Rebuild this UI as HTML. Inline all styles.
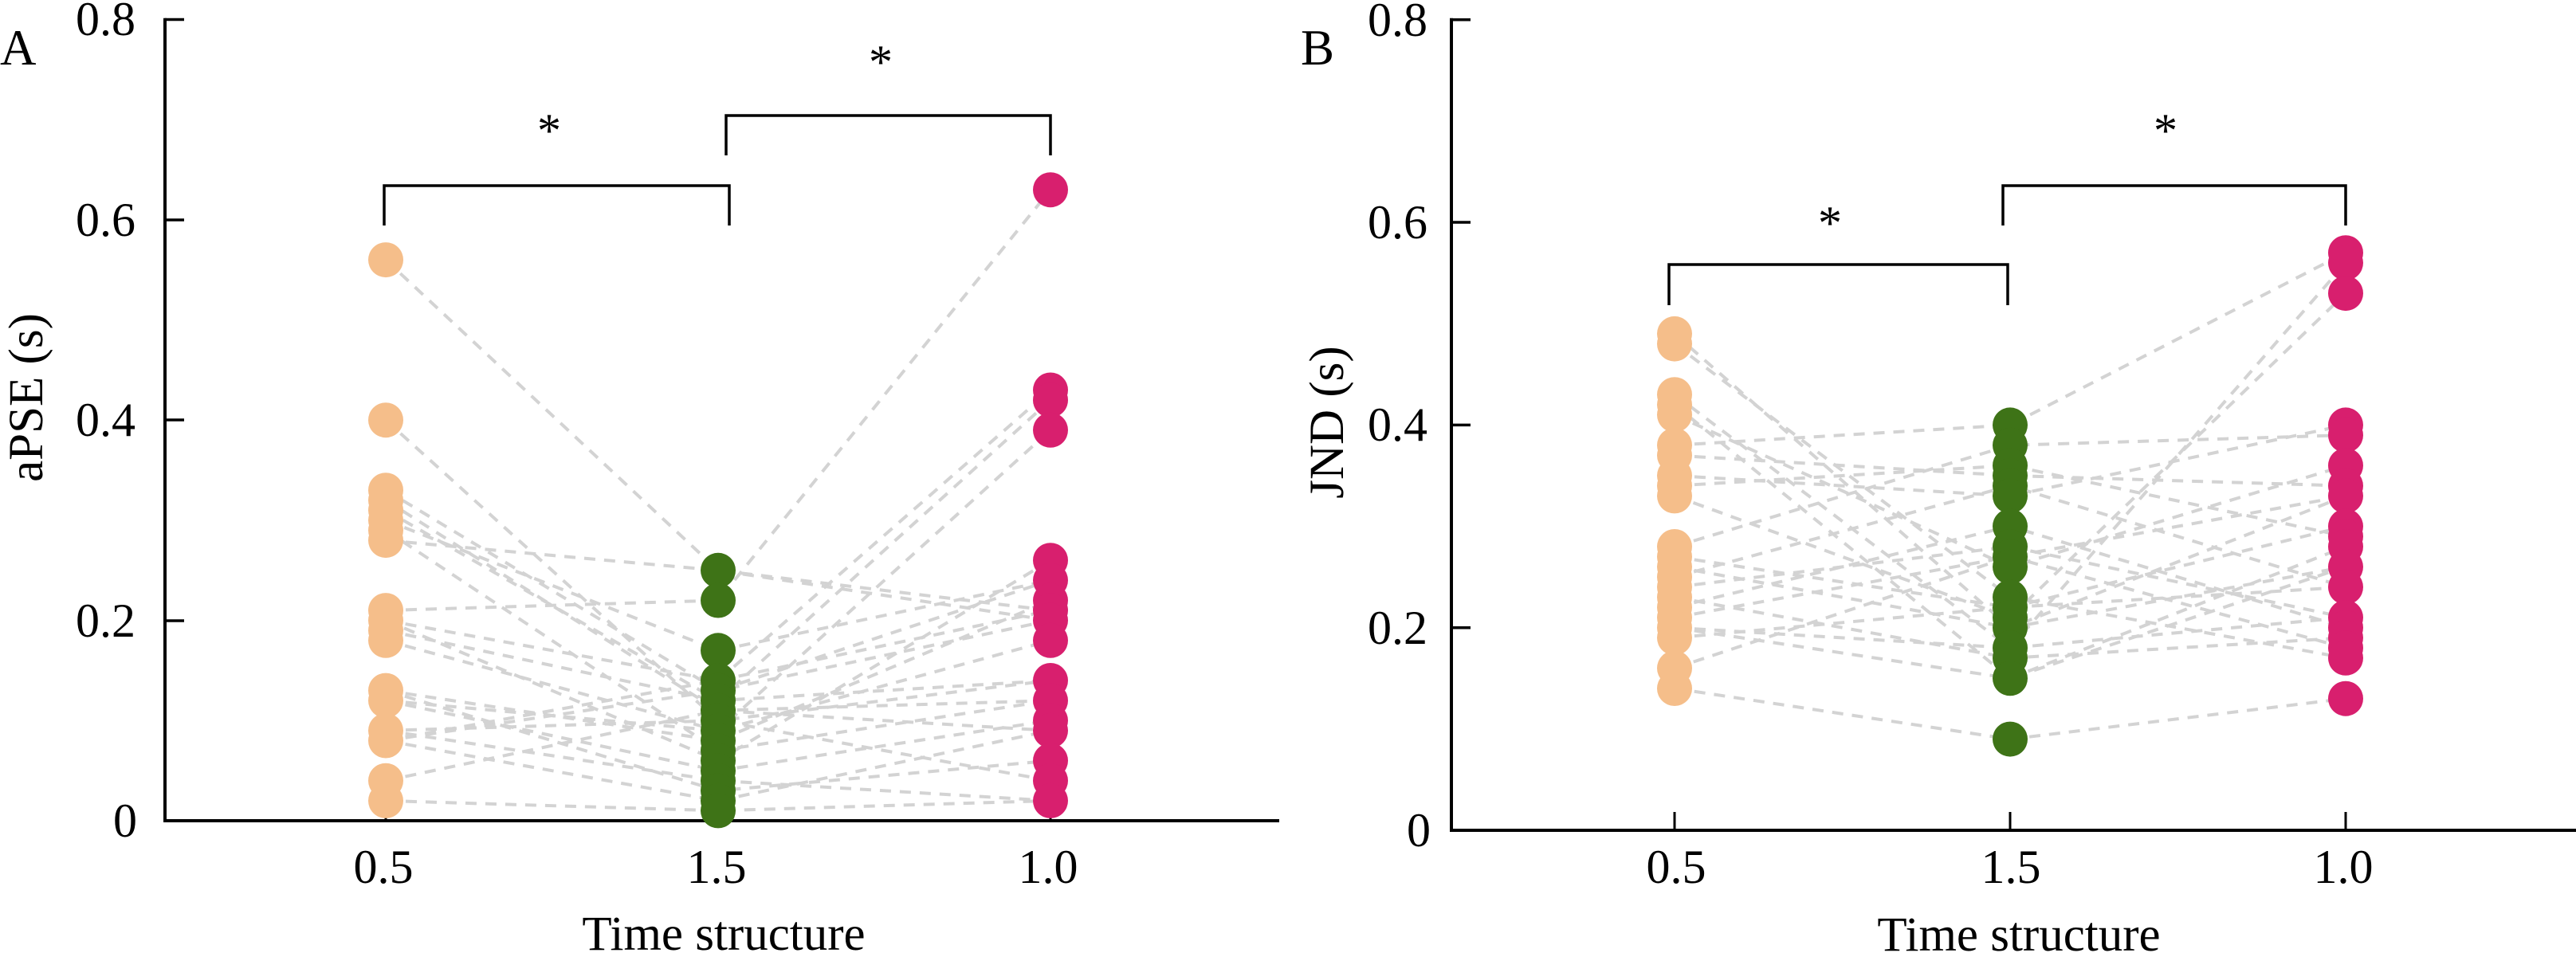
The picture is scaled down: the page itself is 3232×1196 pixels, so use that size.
<!DOCTYPE html>
<html>
<head>
<meta charset="utf-8">
<style>
html,body{margin:0;padding:0;background:#fff;}
svg{display:block;}
text{font-family:"Liberation Serif","Times New Roman",serif;fill:#000;}
</style>
</head>
<body>
<svg width="3232" height="1196" viewBox="0 0 3232 1196" xmlns="http://www.w3.org/2000/svg" font-family="Liberation Serif, serif">
<rect width="3232" height="1196" fill="#fff"/>

<!-- ================= PANEL A ================= -->
<g stroke="#d3d3d3" stroke-width="4" stroke-dasharray="14 11" fill="none">
<polyline points="484,326.1 901,715.8 1318,766.1"/>
<polyline points="484,527.2 901,904.3 1318,854.0"/>
<polyline points="484,615.2 901,866.6 1318,778.6"/>
<polyline points="484,627.8 901,891.7 1318,916.9"/>
<polyline points="484,652.9 901,816.3 1318,728.3"/>
<polyline points="484,665.5 901,942.0 1318,879.2"/>
<polyline points="484,678.1 901,715.8 1318,778.6"/>
<polyline points="484,766.1 901,753.5 1318,238.2"/>
<polyline points="484,778.6 901,854.0 1318,489.5"/>
<polyline points="484,791.2 901,879.2 1318,502.1"/>
<polyline points="484,803.8 901,916.9 1318,539.8"/>
<polyline points="484,778.6 901,954.6 1318,703.2"/>
<polyline points="484,866.6 901,929.5 1318,753.5"/>
<polyline points="484,879.2 901,967.2 1318,904.3"/>
<polyline points="484,866.6 901,992.3 1318,954.6"/>
<polyline points="484,916.9 901,904.3 1318,979.7"/>
<polyline points="484,929.5 901,866.6 1318,728.3"/>
<polyline points="484,929.5 901,1004.9 1318,916.9"/>
<polyline points="484,916.9 901,979.7 1318,1004.9"/>
<polyline points="484,979.7 901,891.7 1318,879.2"/>
<polyline points="484,1004.9 901,1017.4 1318,1004.9"/>
<polyline points="484,929.5 901,854.0 1318,766.1"/>
<polyline points="484,879.2 901,916.9 1318,803.8"/>
<polyline points="484,640.4 901,879.2 1318,854.0"/>
</g>

<!-- axes A -->
<g stroke="#000" fill="none">
<line x1="207" y1="22.7" x2="207" y2="1032" stroke-width="4"/>
<line x1="205" y1="1030" x2="1605" y2="1030" stroke-width="4"/>
<line x1="207" y1="24.5" x2="231" y2="24.5" stroke-width="3.5"/>
<line x1="207" y1="276" x2="231" y2="276" stroke-width="3.5"/>
<line x1="207" y1="527" x2="231" y2="527" stroke-width="3.5"/>
<line x1="207" y1="779" x2="231" y2="779" stroke-width="3.5"/>
<line x1="484" y1="1030" x2="484" y2="1007" stroke-width="3"/>
<line x1="901" y1="1030" x2="901" y2="1007" stroke-width="3"/>
<line x1="1318" y1="1030" x2="1318" y2="1007" stroke-width="3"/>
<polyline points="482,283 482,233 915,233 915,283" stroke-width="3.5"/>
<polyline points="911,195 911,145 1318,145 1318,195" stroke-width="3.5"/>
</g>

<!-- dots A -->
<g fill="#F5BE8A">
<circle cx="484" cy="326.1" r="22"/><circle cx="484" cy="527.2" r="22"/>
<circle cx="484" cy="615.2" r="22"/><circle cx="484" cy="627.8" r="22"/>
<circle cx="484" cy="640.4" r="22"/><circle cx="484" cy="652.9" r="22"/>
<circle cx="484" cy="665.5" r="22"/><circle cx="484" cy="678.1" r="22"/>
<circle cx="484" cy="766.1" r="22"/><circle cx="484" cy="778.6" r="22"/>
<circle cx="484" cy="791.2" r="22"/><circle cx="484" cy="803.8" r="22"/>
<circle cx="484" cy="866.6" r="22"/><circle cx="484" cy="879.2" r="22"/>
<circle cx="484" cy="916.9" r="22"/><circle cx="484" cy="929.5" r="22"/>
<circle cx="484" cy="979.7" r="22"/><circle cx="484" cy="1004.9" r="22"/>
</g>
<g fill="#3E7317">
<circle cx="901" cy="715.8" r="22"/><circle cx="901" cy="753.5" r="22"/>
<circle cx="901" cy="816.3" r="22"/><circle cx="901" cy="854.0" r="22"/>
<circle cx="901" cy="866.6" r="22"/><circle cx="901" cy="879.2" r="22"/>
<circle cx="901" cy="891.7" r="22"/><circle cx="901" cy="904.3" r="22"/>
<circle cx="901" cy="916.9" r="22"/><circle cx="901" cy="929.5" r="22"/>
<circle cx="901" cy="942.0" r="22"/><circle cx="901" cy="954.6" r="22"/>
<circle cx="901" cy="967.2" r="22"/><circle cx="901" cy="979.7" r="22"/>
<circle cx="901" cy="992.3" r="22"/><circle cx="901" cy="1004.9" r="22"/>
<circle cx="901" cy="1017.4" r="22"/>
</g>
<g fill="#D81F6E">
<circle cx="1318" cy="238.2" r="22"/><circle cx="1318" cy="489.5" r="22"/>
<circle cx="1318" cy="502.1" r="22"/><circle cx="1318" cy="539.8" r="22"/>
<circle cx="1318" cy="703.2" r="22"/><circle cx="1318" cy="728.3" r="22"/>
<circle cx="1318" cy="753.5" r="22"/><circle cx="1318" cy="766.1" r="22"/>
<circle cx="1318" cy="778.6" r="22"/><circle cx="1318" cy="803.8" r="22"/>
<circle cx="1318" cy="854.0" r="22"/><circle cx="1318" cy="879.2" r="22"/>
<circle cx="1318" cy="904.3" r="22"/><circle cx="1318" cy="916.9" r="22"/>
<circle cx="1318" cy="954.6" r="22"/><circle cx="1318" cy="979.7" r="22"/>
<circle cx="1318" cy="1004.9" r="22"/>
</g>

<!-- text A -->
<text x="0" y="81" font-size="63">A</text>
<g font-size="60" text-anchor="end">
<text x="170" y="44">0.8</text>
<text x="170" y="296">0.6</text>
<text x="170" y="547">0.4</text>
<text x="170" y="799">0.2</text>
<text x="172" y="1050">0</text>
</g>
<g font-size="60" text-anchor="middle">
<text x="481" y="1108">0.5</text>
<text x="899" y="1108">1.5</text>
<text x="1315" y="1108">1.0</text>
<text x="908" y="1192" font-size="61">Time structure</text>
<text x="689" y="184">*</text>
<text x="1105" y="98">*</text>
</g>
<text x="0" y="0" font-size="61" text-anchor="middle" transform="translate(53,499) rotate(-90)">aPSE (s)</text>

<!-- ================= PANEL B ================= -->
<g stroke="#d3d3d3" stroke-width="4" stroke-dasharray="14 11" fill="none">
<polyline points="2101,418.9 2522,787.7 2943,622.4"/>
<polyline points="2101,431.6 2522,749.5 2943,825.8"/>
<polyline points="2101,495.2 2522,813.1 2943,329.9"/>
<polyline points="2101,507.9 2522,851.3 2943,711.4"/>
<polyline points="2101,520.6 2522,711.4 2943,584.2"/>
<polyline points="2101,558.8 2522,533.4 2943,317.2"/>
<polyline points="2101,571.5 2522,596.9 2943,609.7"/>
<polyline points="2101,596.9 2522,622.4 2943,533.4"/>
<polyline points="2101,609.7 2522,584.2 2943,673.2"/>
<polyline points="2101,622.4 2522,775.0 2943,368.1"/>
<polyline points="2101,686.0 2522,558.8 2943,546.1"/>
<polyline points="2101,698.7 2522,762.2 2943,660.5"/>
<polyline points="2101,724.1 2522,609.7 2943,736.8"/>
<polyline points="2101,736.8 2522,686.0 2943,775.0"/>
<polyline points="2101,749.5 2522,825.8 2943,800.4"/>
<polyline points="2101,762.2 2522,660.5 2943,787.7"/>
<polyline points="2101,775.0 2522,698.7 2943,813.1"/>
<polyline points="2101,787.7 2522,851.3 2943,686.0"/>
<polyline points="2101,800.4 2522,762.2 2943,736.8"/>
<polyline points="2101,838.5 2522,698.7 2943,622.4"/>
<polyline points="2101,864.0 2522,927.6 2943,876.7"/>
<polyline points="2101,711.4 2522,787.7 2943,711.4"/>
<polyline points="2101,787.7 2522,813.1 2943,775.0"/>
</g>

<!-- axes B -->
<g stroke="#000" fill="none">
<line x1="1821" y1="22.7" x2="1821" y2="1044" stroke-width="4"/>
<line x1="1819" y1="1042" x2="3232" y2="1042" stroke-width="4"/>
<line x1="1821" y1="24.7" x2="1845" y2="24.7" stroke-width="3.5"/>
<line x1="1821" y1="279" x2="1845" y2="279" stroke-width="3.5"/>
<line x1="1821" y1="533.4" x2="1845" y2="533.4" stroke-width="3.5"/>
<line x1="1821" y1="787.7" x2="1845" y2="787.7" stroke-width="3.5"/>
<line x1="2101" y1="1042" x2="2101" y2="1019" stroke-width="3"/>
<line x1="2522" y1="1042" x2="2522" y2="1019" stroke-width="3"/>
<line x1="2943" y1="1042" x2="2943" y2="1019" stroke-width="3"/>
<polyline points="2094,383 2094,332 2519,332 2519,383" stroke-width="3.5"/>
<polyline points="2513,283 2513,233 2943,233 2943,283" stroke-width="3.5"/>
</g>

<!-- dots B -->
<g fill="#F5BE8A">
<circle cx="2101" cy="418.9" r="22"/><circle cx="2101" cy="431.6" r="22"/>
<circle cx="2101" cy="495.2" r="22"/><circle cx="2101" cy="507.9" r="22"/>
<circle cx="2101" cy="520.6" r="22"/><circle cx="2101" cy="558.8" r="22"/>
<circle cx="2101" cy="571.5" r="22"/><circle cx="2101" cy="596.9" r="22"/>
<circle cx="2101" cy="609.7" r="22"/><circle cx="2101" cy="622.4" r="22"/>
<circle cx="2101" cy="686.0" r="22"/><circle cx="2101" cy="698.7" r="22"/>
<circle cx="2101" cy="711.4" r="22"/><circle cx="2101" cy="724.1" r="22"/>
<circle cx="2101" cy="736.8" r="22"/><circle cx="2101" cy="749.5" r="22"/>
<circle cx="2101" cy="762.2" r="22"/><circle cx="2101" cy="775.0" r="22"/>
<circle cx="2101" cy="787.7" r="22"/><circle cx="2101" cy="800.4" r="22"/>
<circle cx="2101" cy="838.5" r="22"/><circle cx="2101" cy="864.0" r="22"/>
</g>
<g fill="#3E7317">
<circle cx="2522" cy="533.4" r="22"/><circle cx="2522" cy="558.8" r="22"/>
<circle cx="2522" cy="584.2" r="22"/><circle cx="2522" cy="596.9" r="22"/>
<circle cx="2522" cy="609.7" r="22"/><circle cx="2522" cy="622.4" r="22"/>
<circle cx="2522" cy="660.5" r="22"/><circle cx="2522" cy="686.0" r="22"/>
<circle cx="2522" cy="698.7" r="22"/><circle cx="2522" cy="711.4" r="22"/>
<circle cx="2522" cy="749.5" r="22"/><circle cx="2522" cy="762.2" r="22"/>
<circle cx="2522" cy="775.0" r="22"/><circle cx="2522" cy="787.7" r="22"/>
<circle cx="2522" cy="813.1" r="22"/><circle cx="2522" cy="825.8" r="22"/>
<circle cx="2522" cy="851.3" r="22"/><circle cx="2522" cy="927.6" r="22"/>
</g>
<g fill="#D81F6E">
<circle cx="2943" cy="317.2" r="22"/><circle cx="2943" cy="329.9" r="22"/>
<circle cx="2943" cy="368.1" r="22"/><circle cx="2943" cy="533.4" r="22"/>
<circle cx="2943" cy="546.1" r="22"/><circle cx="2943" cy="584.2" r="22"/>
<circle cx="2943" cy="609.7" r="22"/><circle cx="2943" cy="622.4" r="22"/>
<circle cx="2943" cy="660.5" r="22"/><circle cx="2943" cy="673.2" r="22"/>
<circle cx="2943" cy="686.0" r="22"/><circle cx="2943" cy="711.4" r="22"/>
<circle cx="2943" cy="736.8" r="22"/><circle cx="2943" cy="775.0" r="22"/>
<circle cx="2943" cy="787.7" r="22"/><circle cx="2943" cy="800.4" r="22"/>
<circle cx="2943" cy="813.1" r="22"/><circle cx="2943" cy="825.8" r="22"/>
<circle cx="2943" cy="876.7" r="22"/>
</g>

<!-- text B -->
<text x="1632" y="81" font-size="63">B</text>
<g font-size="60" text-anchor="end">
<text x="1791" y="45">0.8</text>
<text x="1791" y="299">0.6</text>
<text x="1791" y="553">0.4</text>
<text x="1791" y="808">0.2</text>
<text x="1795" y="1062">0</text>
</g>
<g font-size="60" text-anchor="middle">
<text x="2103" y="1108">0.5</text>
<text x="2523" y="1108">1.5</text>
<text x="2940" y="1108">1.0</text>
<text x="2533" y="1193" font-size="61">Time structure</text>
<text x="2296" y="300">*</text>
<text x="2717" y="184">*</text>
</g>
<text x="0" y="0" font-size="61" text-anchor="middle" transform="translate(1685,530) rotate(-90)">JND (s)</text>
</svg>
</body>
</html>
